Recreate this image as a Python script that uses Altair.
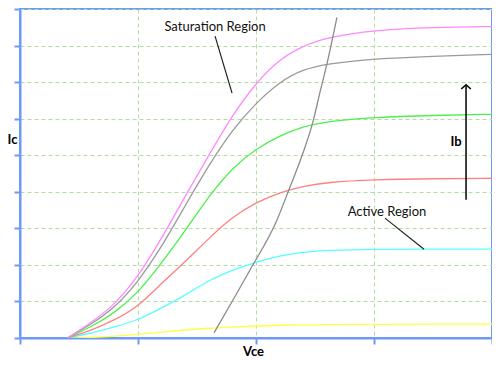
import altair as alt
import pandas as pd

# Curve samples (Vce, Ic) for each base current level
vce = [0.4, 0.6, 0.8, 1.0, 1.2, 1.4, 1.6, 1.8, 2.0, 2.2, 2.4, 2.6, 3.0, 3.5, 4.0]
ic_pink = [0.0, 0.41, 0.90, 1.67, 2.72, 3.88, 5.00, 6.10, 6.98, 7.63, 7.99, 8.22, 8.42, 8.50, 8.52]
ic_gray = [0.0, 0.37, 0.82, 1.53, 2.49, 3.62, 4.73, 5.70, 6.43, 7.01, 7.35, 7.50, 7.64, 7.71, 7.76]
ic_green = [0.0, 0.30, 0.68, 1.23, 2.05, 2.93, 3.88, 4.66, 5.18, 5.53, 5.79, 5.92, 6.04, 6.09, 6.12]
ic_red = [0.0, 0.20, 0.49, 0.85, 1.50, 2.08, 2.73, 3.31, 3.71, 3.98, 4.15, 4.26, 4.33, 4.36, 4.37]
ic_cyan = [0.0, 0.13, 0.30, 0.49, 0.82, 1.17, 1.58, 1.86, 2.08, 2.25, 2.35, 2.40, 2.43, 2.43, 2.43]
ic_yellow = [0.0, 0.01, 0.05, 0.10, 0.16, 0.22, 0.27, 0.30, 0.33, 0.35, 0.36, 0.365, 0.37, 0.38, 0.38]

series_names = ["yellow", "cyan", "red", "green", "gray", "pink"]
series_colors = ["#ffff40", "#55ffff", "#ff8080", "#4cf04c", "#9a9a9a", "#ff88ff"]

# Boundary curve between saturation and active regions
boundary_x = [1.644, 1.805, 1.949, 2.178, 2.288, 2.398, 2.483, 2.542, 2.602, 2.686]
boundary_y = [0.14, 1.04, 1.86, 3.23, 4.13, 5.06, 5.92, 6.72, 7.51, 8.77]

# Annotations
labels = ["Saturation Region", "Active Region"]
label_x = [1.653, 3.11]
label_y = [8.50, 3.45]
pointer_x = [1.653, 3.093]
pointer_y = [8.26, 3.28]
pointer_x2 = [1.797, 3.424]
pointer_y2 = [6.70, 2.43]
arrow_x = [3.78]
arrow_y = [3.78]
arrow_y2 = [6.93]
ib_label = ["Ib"]
ib_x = [3.695]
ib_y = [5.36]

x_ticks = [0, 1, 2, 3, 4]
y_ticks = [0, 1, 2, 3, 4, 5, 6, 7, 8, 9]

rows = []
for name, vals in zip(series_names, [ic_yellow, ic_cyan, ic_red, ic_green, ic_gray, ic_pink]):
    for i, (xv, yv) in enumerate(zip(vce, vals)):
        rows.append({"series": name, "vce": xv, "ic": yv, "order": i})
curves = pd.DataFrame(rows)
boundary = pd.DataFrame({"vce": boundary_x, "ic": boundary_y, "order": range(len(boundary_x))})
ann = pd.DataFrame({"label": labels, "x": label_x, "y": label_y})
ptr = pd.DataFrame({"x": pointer_x, "y": pointer_y, "x2": pointer_x2, "y2": pointer_y2})
arrow = pd.DataFrame({"x": arrow_x, "y": arrow_y, "y2": arrow_y2})
ib = pd.DataFrame({"label": ib_label, "x": ib_x, "y": ib_y})

blue = "#6d9af5"
gridc = "#b3dca3"
font = "Lato"

xscale = alt.Scale(domain=[0, 4], nice=False)
yscale = alt.Scale(domain=[0, 9], nice=False)

xaxis = alt.Axis(values=x_ticks, tickCount=20, labels=False, title="Vce", titleFont=font, titleFontSize=13,
                 titleFontWeight="bold", titleColor="#000", titleX=233, titleY=13,
                 titleBaseline="middle", titleAlign="center",
                 domainColor=blue, domainWidth=2, tickColor=blue, tickWidth=2, tickSize=6,
                 grid=True, gridColor=gridc, gridDash=[4, 3], gridWidth=1)
yaxis = alt.Axis(values=y_ticks, tickCount=20, labels=False, title="Ic", titleFont=font, titleFontSize=13,
                 titleFontWeight="bold", titleColor="#000", titleAngle=0, titleX=-8, titleY=130,
                 titleBaseline="middle", titleAlign="center",
                 domainColor=blue, domainWidth=2, tickColor=blue, tickWidth=2, tickSize=6,
                 grid=True, gridColor=gridc, gridDash=[4, 3], gridWidth=1)

lines = alt.Chart(curves).mark_line(strokeWidth=1.3, interpolate="basis", clip=True).encode(
    x=alt.X("vce:Q", scale=xscale, axis=xaxis),
    y=alt.Y("ic:Q", scale=yscale, axis=yaxis),
    color=alt.Color("series:N", scale=alt.Scale(domain=series_names, range=series_colors), legend=None),
    order="order:Q",
)

bline = alt.Chart(boundary).mark_line(strokeWidth=1.3, color="#8c8c8c", interpolate="monotone").encode(
    x=alt.X("vce:Q", scale=xscale), y=alt.Y("ic:Q", scale=yscale), order="order:Q"
)

texts = alt.Chart(ann).mark_text(font=font, fontSize=13, color="#111", baseline="middle", align="center").encode(
    x=alt.X("x:Q", scale=xscale), y=alt.Y("y:Q", scale=yscale), text="label:N"
)

ptrs = alt.Chart(ptr).mark_rule(color="#222", strokeWidth=1.2).encode(
    x=alt.X("x:Q", scale=xscale), y=alt.Y("y:Q", scale=yscale), x2="x2:Q", y2="y2:Q"
)

arr = alt.Chart(arrow).mark_rule(color="#000", strokeWidth=1.5).encode(
    x=alt.X("x:Q", scale=xscale), y=alt.Y("y:Q", scale=yscale), y2="y2:Q"
)
head = alt.Chart(arrow).mark_point(shape="M-1,0.9L0,0L1,0.9", size=90, filled=False,
                                   color="#000", strokeWidth=1.5, opacity=1).encode(
    x=alt.X("x:Q", scale=xscale), y=alt.Y("y2:Q", scale=yscale)
)
ibt = alt.Chart(ib).mark_text(font=font, fontSize=13, fontWeight="bold", color="#000").encode(
    x=alt.X("x:Q", scale=xscale), y=alt.Y("y:Q", scale=yscale), text="label:N"
)

chart = alt.layer(lines, bline, ptrs, arr, head, texts, ibt).properties(
    width=472, height=329,
    autosize=alt.AutoSizeParams(type="none"),
    padding={"left": 12, "top": 1, "right": 0, "bottom": 21},
    background="white",
).configure_view(stroke=blue, strokeWidth=2)

chart.save("out.html", embed_options={"renderer": "svg", "actions": False})
